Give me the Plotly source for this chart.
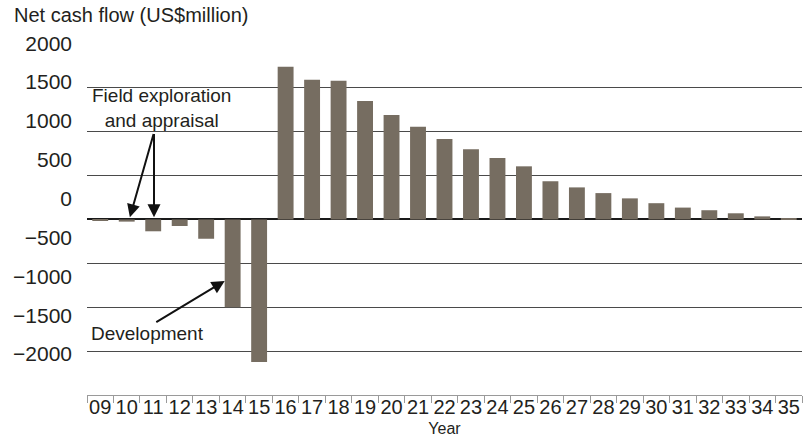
import plotly.graph_objects as go

years = ["09", "10", "11", "12", "13", "14", "15", "16", "17", "18", "19", "20", "21", "22",
         "23", "24", "25", "26", "27", "28", "29", "30", "31", "32", "33", "34", "35"]
net_cash_flow = [-10, -25, -135, -75, -220, -1000, -1625, 1740, 1590, 1580, 1350, 1190, 1055, 915,
                 800, 700, 605, 435, 365, 300, 240, 185, 135, 105, 70, 35, 8]

tick_vals = [2000, 1500, 1000, 500, 0, -500, -1000, -1500, -2000]
tick_text = ["2000", "1500", "1000", "500", "0", "\u2212500", "\u22121000", "\u22121500", "\u22122000"]

FONT = "Liberation Sans, Arial, sans-serif"
TXT = "#231f20"
BAR = "#766d61"

fig = go.Figure()
fig.add_trace(go.Bar(x=years, y=net_cash_flow, marker_color=BAR, marker_line_width=0,
                     width=0.6, showlegend=False))

fig.update_layout(
    width=804, height=441,
    margin=dict(l=87, r=2, t=43, b=46),
    paper_bgcolor="white", plot_bgcolor="white",
    font=dict(family=FONT, color=TXT, size=20),
    bargap=0.4,
    xaxis=dict(
        type="category", range=[-0.5, 26.5], showgrid=False, showline=True,
        linecolor="#9a9a9a", linewidth=1,
        ticks="outside", tickson="boundaries", ticklen=7, tickcolor="#9a9a9a",
        tickfont=dict(size=20), tickangle=0, ticklabelstandoff=-6, automargin=False,
        title=dict(text="Year", font=dict(size=16), standoff=5),
    ),
    yaxis=dict(
        range=[-2000, 2010], tickvals=tick_vals, showticklabels=False, ticks="",
        showgrid=True, gridcolor="#4a4a4a", gridwidth=1, automargin=False,
        zeroline=True, zerolinecolor="#1a1a1a", zerolinewidth=1.5,
    ),
    yaxis2=dict(
        overlaying="y", side="left", range=[-2527, 2003], tickvals=tick_vals, ticktext=tick_text,
        showgrid=False, zeroline=False, ticks="", tickfont=dict(size=21), ticklabelstandoff=14,
        automargin=False,
    ),
)

# keep the label axis drawn
fig.add_trace(go.Scatter(x=[years[0]], y=[0], yaxis="y2", mode="markers",
                         marker=dict(opacity=0), showlegend=False, hoverinfo="skip"))

fig.add_annotation(x=0, y=1.0, xref="paper", yref="paper", xshift=-75, yshift=28,
                   text="Net cash flow (US$million)", showarrow=False,
                   xanchor="left", yanchor="middle", font=dict(size=20))

# arrows
arrow = dict(showarrow=True, arrowhead=2, arrowsize=1.3, arrowwidth=2, arrowcolor="#111",
             axref="x", ayref="y", text="")
fig.add_annotation(x=1.12, y=25, ax=2.03, ay=990, **arrow)
fig.add_annotation(x=2.03, y=25, ax=2.03, ay=990, **arrow)
fig.add_annotation(x=4.7, y=-700, ax=2.06, ay=-1180, **arrow)

fig.add_annotation(x=2.33, y=1275, text="Field exploration<br>and appraisal", showarrow=False,
                   font=dict(size=19), align="center")
fig.add_annotation(x=1.8, y=-1295, text="Development", showarrow=False, font=dict(size=19))

fig.write_html("out.html", config={"displayModeBar": False},
               post_script="document.body.style.margin='0';")
